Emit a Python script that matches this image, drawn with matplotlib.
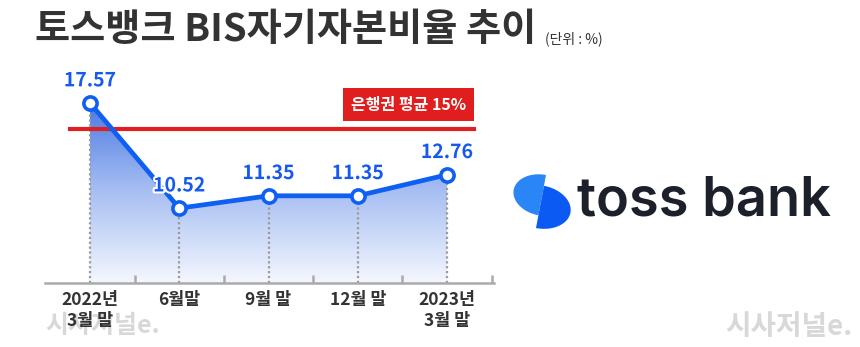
import numpy as np
import matplotlib
matplotlib.use("Agg")
import matplotlib.pyplot as plt
from matplotlib.patches import Rectangle, Polygon
import matplotlib.patheffects as pe
from matplotlib.colors import LinearSegmentedColormap

plt.rcParams['font.family'] = ['Noto Sans CJK KR', 'DejaVu Sans']

# ---------------- data ----------------
categories = ["2022년\n3월 말", "6월말", "9월 말", "12월 말", "2023년\n3월 말"]
ratios = [17.57, 10.52, 11.35, 11.35, 12.76]
value_labels = ["17.57", "10.52", "11.35", "11.35", "12.76"]
bank_avg_line = 15.8          # position of the red line as drawn in the picture
bank_avg_label = "은행권 평균 15%"
title = "토스뱅크 BIS자기자본비율 추이"
unit = "(단위 : %)"

W, H = 860, 347
fig = plt.figure(figsize=(W / 100, H / 100), dpi=100)
fig.patch.set_facecolor("white")

# overlay axes in pixel coordinates for decorations
deco = fig.add_axes([0, 0, 1, 1], zorder=0)
deco.set_xlim(0, W)
deco.set_ylim(H, 0)
deco.axis("off")

# main chart axes
px_left, px_right, px_bottom, px_top = 45.4, 494.3, 283, 60
ax = fig.add_axes([px_left / W, (H - px_bottom) / H,
                   (px_right - px_left) / W, (px_bottom - px_top) / H], zorder=1)
ax.patch.set_visible(False)
x = np.arange(len(categories))
ymin, ymax = 5.5, 20.46
ax.set_xlim(-0.5, 4.53)
ax.set_ylim(ymin, ymax)

# gradient fill under the line
fill = ax.fill_between(x, ratios, ymin, color="none", lw=0)
cmap = LinearSegmentedColormap.from_list("g", ["#f4f7fe", "#a9c0f3", "#4c7ae2"])
grad = np.linspace(0, 1, 256).reshape(-1, 1)
im = ax.imshow(grad, extent=(x[0], x[-1], ymin, max(ratios)), origin="lower",
               cmap=cmap, aspect="auto", zorder=1)
im.set_clip_path(fill.get_paths()[0], transform=ax.transData)

# dotted drop lines
for xi, yi in zip(x, ratios):
    ax.plot([xi, xi], [ymin, yi], color="#9a9a9a", lw=1.6, ls=(0, (1, 1.2)), zorder=2)

# red average line
ax.axhline(bank_avg_line, xmin=0.055, xmax=0.955, color="#e02020", lw=3.0, zorder=2)

# main line
ax.plot(x, ratios, color="#0f5ff2", lw=3.4, zorder=3, solid_joinstyle="round",
        marker="o", markersize=9.5, markerfacecolor="white",
        markeredgecolor="#0f5ff2", markeredgewidth=2.6)

for xi, yi, lab in zip(x, ratios, value_labels):
    ax.annotate(lab, (xi, yi), xytext=(0, 16), textcoords="offset points",
                ha="center", va="center", fontsize=14, fontweight="bold",
                color="#1559f0", zorder=5,
                path_effects=[pe.withStroke(linewidth=3, foreground="white")])

# axes styling
for s in ["left", "right", "top"]:
    ax.spines[s].set_visible(False)
ax.spines["bottom"].set_color("#aaaaaa")
ax.spines["bottom"].set_linewidth(1.8)
ax.set_yticks([])
ax.set_xticks(x)
ax.set_xticklabels(categories, fontsize=12.5, fontweight="bold", color="#333333",
                   linespacing=1.2)
ax.tick_params(axis="x", which="major", length=0, pad=6)
ax.set_xticks(x + 0.5, minor=True)
ax.tick_params(axis="x", which="minor", direction="in", length=6, width=1.8,
               color="#aaaaaa")

# red label box
deco.add_patch(Rectangle((343, 88), 131, 33, color="#e01e1e", lw=0))
deco.text(408.5, 104.5, bank_avg_label, ha="center", va="center", fontsize=11.5,
          fontweight="bold", color="white")

# title
deco.text(35, 29, title, ha="left", va="center", fontsize=27.5, fontweight="black",
          color="#333333")
deco.text(545, 39, unit, ha="left", va="center", fontsize=10, color="#333333")

# watermarks
deco.text(45, 326, "시사저널e.", ha="left", va="center", fontsize=18,
          fontweight="bold", color="#d8d8d8", zorder=0)
deco.text(725, 327, "시사저널e.", ha="left", va="center", fontsize=20,
          fontweight="bold", color="#d8d8d8")

# toss bank logo (two offset half-ellipses)
line_top = np.array([546.0, 175.0]); line_bot = np.array([536.0, 228.0])
u = (line_bot - line_top) / np.linalg.norm(line_bot - line_top)
nl = np.array([-u[1], u[0]])
if nl[0] > 0:
    nl = -nl
t = np.linspace(0, np.pi, 80)
c1 = line_top + u * 20.5
pts1 = np.array([c1 - np.cos(tt) * u * 20.5 + np.sin(tt) * nl * 29 for tt in t])
c2 = line_top + u * 32.5
pts2 = np.array([c2 - np.cos(tt) * u * 21.5 - np.sin(tt) * nl * 31 for tt in t])
deco.add_patch(Polygon(pts1, closed=True, color="#2a86f7", lw=0))
deco.add_patch(Polygon(pts2, closed=True, color="#0b5af4", lw=0))
deco.text(577, 201, "toss bank", ha="left", va="center", fontsize=39,
          fontweight="semibold", family=["Inter", "DejaVu Sans"], color="#1b202b")

fig.savefig("out.png", dpi=100, facecolor="white")
